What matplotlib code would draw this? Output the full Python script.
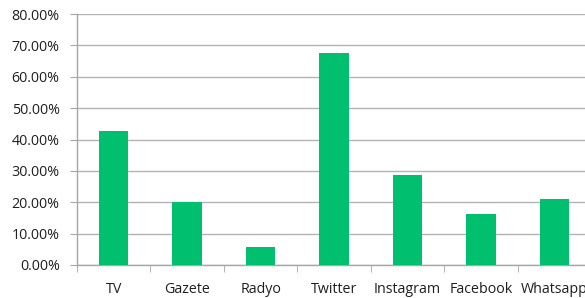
import matplotlib.pyplot as plt
from matplotlib.ticker import PercentFormatter

categories = ["TV", "Gazete", "Radyo", "Twitter", "Instagram", "Facebook", "Whatsapp"]
values = [42.6, 20.0, 5.7, 67.5, 28.8, 16.2, 21.1]
yticks = [0, 10, 20, 30, 40, 50, 60, 70, 80]

plt.rcParams['font.family'] = ['Open Sans', 'DejaVu Sans']

fig = plt.figure(figsize=(5.85, 2.98), dpi=100)
ax = fig.add_axes([77 / 585, 1 - 265 / 298, 514 / 585, 251 / 298])

x = range(len(categories))
ax.bar(x, values, width=0.4, color="#00bf6f", zorder=3)

ax.set_xlim(-0.5, len(categories) - 0.5)
ax.set_ylim(0, 80)
ax.set_yticks(yticks)
ax.yaxis.set_major_formatter(PercentFormatter(decimals=2))
ax.set_xticks(x)
ax.set_xticklabels(categories)
ax.set_xticks([i + 0.5 for i in range(-1, len(categories))], minor=True)

ax.grid(axis="y", color="#b3b3b3", linewidth=1, zorder=0)
for s in ["top", "right"]:
    ax.spines[s].set_visible(False)
for s in ["left", "bottom"]:
    ax.spines[s].set_color("#a6a6a6")
    ax.spines[s].set_linewidth(1)

ax.tick_params(axis="y", length=5, color="#a6a6a6", labelsize=10.3, labelcolor="#1f1f1f", pad=7.5)
ax.tick_params(axis="x", which="major", length=0, labelsize=10.3, labelcolor="#1f1f1f", pad=12)
ax.tick_params(axis="x", which="minor", length=5, color="#a6a6a6")

fig.savefig("out.png", dpi=100)
